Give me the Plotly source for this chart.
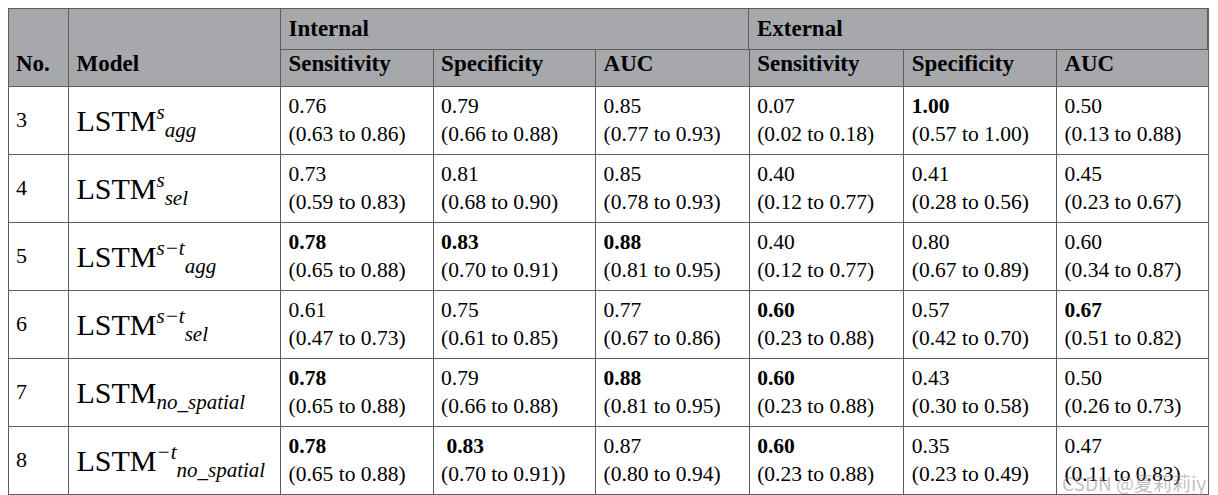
import plotly.graph_objects as go

# table contents
numbers = ["3", "4", "5", "6", "7", "8"]
models = [
    "LSTM<sup><i>s</i></sup><sub><i>agg</i></sub>",
    "LSTM<sup><i>s</i></sup><sub><i>sel</i></sub>",
    "LSTM<sup><i>s\u2212t</i></sup><sub><i>agg</i></sub>",
    "LSTM<sup><i>s\u2212t</i></sup><sub><i>sel</i></sub>",
    "LSTM<sub><i>no_spatial</i></sub>",
    "LSTM<sup><i>\u2212t</i></sup><sub><i>no_spatial</i></sub>",
]
int_sens = ["0.76<br>(0.63 to 0.86)", "0.73<br>(0.59 to 0.83)", "<b>0.78</b><br>(0.65 to 0.88)",
            "0.61<br>(0.47 to 0.73)", "<b>0.78</b><br>(0.65 to 0.88)", "<b>0.78</b><br>(0.65 to 0.88)"]
int_spec = ["0.79<br>(0.66 to 0.88)", "0.81<br>(0.68 to 0.90)", "<b>0.83</b><br>(0.70 to 0.91)",
            "0.75<br>(0.61 to 0.85)", "0.79<br>(0.66 to 0.88)", " <b>0.83</b><br>(0.70 to 0.91))"]
int_auc = ["0.85<br>(0.77 to 0.93)", "0.85<br>(0.78 to 0.93)", "<b>0.88</b><br>(0.81 to 0.95)",
           "0.77<br>(0.67 to 0.86)", "<b>0.88</b><br>(0.81 to 0.95)", "0.87<br>(0.80 to 0.94)"]
ext_sens = ["0.07<br>(0.02 to 0.18)", "0.40<br>(0.12 to 0.77)", "0.40<br>(0.12 to 0.77)",
            "<b>0.60</b><br>(0.23 to 0.88)", "<b>0.60</b><br>(0.23 to 0.88)", "<b>0.60</b><br>(0.23 to 0.88)"]
ext_spec = ["<b>1.00</b><br>(0.57 to 1.00)", "0.41<br>(0.28 to 0.56)", "0.80<br>(0.67 to 0.89)",
            "0.57<br>(0.42 to 0.70)", "0.43<br>(0.30 to 0.58)", "0.35<br>(0.23 to 0.49)"]
ext_auc = ["0.50<br>(0.13 to 0.88)", "0.45<br>(0.23 to 0.67)", "0.60<br>(0.34 to 0.87)",
           "<b>0.67</b><br>(0.51 to 0.82)", "0.50<br>(0.26 to 0.73)", "0.47<br>(0.11 to 0.83)"]

col_headers = ["No.", "Model", "Sensitivity", "Specificity", "AUC",
               "Sensitivity", "Specificity", "AUC"]
groups = ["Internal", "External"]

col_widths = [61, 214, 154, 164, 155, 156, 154, 153]

GRAY = "#a7a8ab"
LINE = "#5c5c5c"
SERIF = "Liberation Serif"


def sized(text, px):
    return '<span style="font-size:%dpx">%s</span>' % (px, text)


# plotly tables have no vertical centering: push single-line cells down with a
# blank first line (its height follows the small column font), the span keeps
# the visible text at its real size. any <br> also stops plotly's word wrap
# from splitting the span tag.
num_cells = ["\u00a0<br>" + sized(n, 22) for n in numbers]
model_cells = ["\u00a0<br>" + sized(m, 30) for m in models]

fig = go.Figure()

# main table: the header holds both header rows (group label row left blank)
fig.add_trace(go.Table(
    columnwidth=col_widths,
    domain=dict(x=[0, 1], y=[0, 1]),
    header=dict(
        values=["\u00a0<br>" + sized("<b>%s</b>" % h, 23) for h in col_headers],
        fill_color=GRAY,
        line_color=LINE,
        align="left",
        height=78,
        font=dict(family=SERIF, size=25, color="black"),
    ),
    cells=dict(
        values=[num_cells, model_cells, int_sens, int_spec, int_auc, ext_sens, ext_spec, ext_auc],
        fill_color="white",
        line_color=LINE,
        align="left",
        height=68,
        font=dict(family=SERIF, size=[15, 17, 21.5, 21.5, 21.5, 21.5, 21.5, 21.5], color="black"),
    ),
))

# spanning group row (Internal / External) laid over the top of the header
left = sum(col_widths[:2]) / sum(col_widths)
fig.add_trace(go.Table(
    columnwidth=[sum(col_widths[2:5]), sum(col_widths[5:])],
    domain=dict(x=[left, 1], y=[0, 1]),
    header=dict(
        values=[sized("<b>%s</b>" % g, 23) + "<br>" for g in groups],
        fill_color=GRAY,
        line_color=LINE,
        align="left",
        height=38,
        font=dict(family=SERIF, size=17, color="black"),
    ),
    cells=dict(values=[[], []]),
))

fig.add_annotation(
    text="CSDN @夏莉莉iy", xref="paper", yref="paper", x=1.0, y=0.01,
    xanchor="right", yanchor="bottom", showarrow=False,
    font=dict(family="Noto Sans CJK SC", size=19, color="rgba(140,140,140,0.55)"),
)

fig.update_layout(
    width=1218, height=495,
    margin=dict(l=0, r=18, t=0, b=0),
    paper_bgcolor="white",
)

fig.write_html("out.html")
